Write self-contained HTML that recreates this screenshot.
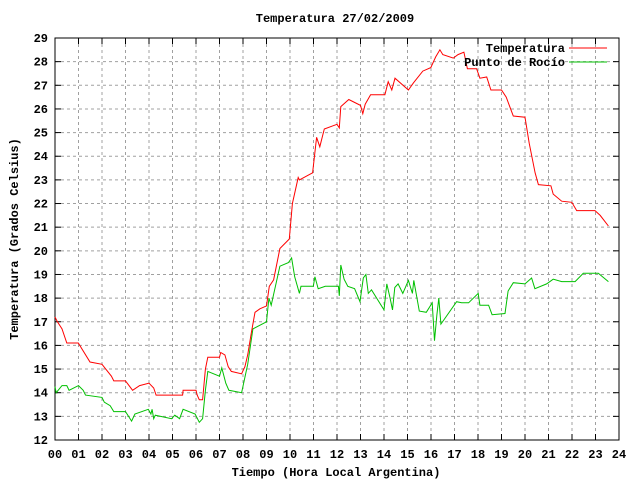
<!DOCTYPE html>
<html><head><meta charset="utf-8"><style>
body{margin:0;background:#fff;}
svg text{font-family:"Liberation Mono",monospace;font-weight:bold;font-size:12px;fill:#000;}
</style></head><body>
<svg id="chart" width="640" height="480" xmlns="http://www.w3.org/2000/svg">
<rect width="640" height="480" fill="#fff"/>
<g id="grid"></g>
<g id="axes"></g>
<g id="series"></g>
<text x="335" y="22" text-anchor="middle">Temperatura 27/02/2009</text>
<text x="336" y="476" text-anchor="middle">Tiempo (Hora Local Argentina)</text>
<text x="0" y="0" text-anchor="middle" transform="translate(18,239) rotate(-90)">Temperatura (Grados Celsius)</text>
<g>
<text x="565" y="52" text-anchor="end">Temperatura</text>
<line x1="569" y1="48" x2="607" y2="48" stroke="#ff0000" stroke-width="1"/>
<text x="565" y="66" text-anchor="end">Punto de Rocío</text>
<line x1="569" y1="62" x2="607" y2="62" stroke="#00c000" stroke-width="1"/>
</g>
</svg>
<script>
const xTicks=["00","01","02","03","04","05","06","07","08","09","10","11","12","13","14","15","16","17","18","19","20","21","22","23","24"];
const yTicks=[12,13,14,15,16,17,18,19,20,21,22,23,24,25,26,27,28,29];
const tempHours=[0,0.1,0.3,0.5,0.99,1.49,2.0,2.4,2.5,3.0,3.3,3.6,4.0,4.2,4.3,5.43,5.45,6.0,6.05,6.14,6.28,6.4,6.5,7.0,7.05,7.23,7.37,7.5,7.94,8.08,8.2,8.35,8.51,8.72,9.0,9.12,9.3,9.57,9.97,10.1,10.35,10.4,10.96,11.13,11.27,11.46,12.0,12.1,12.16,12.5,13.0,13.1,13.2,13.43,14.04,14.18,14.33,14.47,15.04,15.25,15.65,15.99,16.2,16.38,16.5,16.95,17.15,17.4,17.55,17.94,18.08,18.37,18.55,19.0,19.2,19.5,20.0,20.18,20.43,20.57,21.1,21.2,21.56,21.99,22.2,22.55,22.98,23.2,23.55];
const tempValues=[17.2,17.0,16.7,16.1,16.1,15.3,15.2,14.7,14.5,14.5,14.1,14.3,14.4,14.2,13.9,13.9,14.1,14.1,13.9,13.7,13.7,15.0,15.5,15.5,15.7,15.6,15.1,14.9,14.8,15.1,15.6,16.5,17.4,17.55,17.67,18.5,18.77,20.1,20.5,22.0,23.1,23.0,23.3,24.8,24.4,25.15,25.35,25.2,26.1,26.4,26.15,25.8,26.2,26.6,26.6,27.15,26.8,27.3,26.8,27.1,27.6,27.75,28.2,28.5,28.3,28.15,28.3,28.4,27.7,27.7,27.3,27.35,26.8,26.8,26.5,25.7,25.65,24.55,23.3,22.8,22.75,22.4,22.1,22.05,21.7,21.7,21.7,21.5,21.05];
const dewHours=[0,0.05,0.3,0.5,0.6,1.0,1.2,1.3,2.0,2.1,2.35,2.5,3.0,3.26,3.4,3.97,4.08,4.13,4.2,4.27,4.96,5.1,5.3,5.45,5.96,6.14,6.28,6.4,6.5,7.0,7.1,7.27,7.4,7.94,8.2,8.42,9.0,9.1,9.2,9.57,9.93,10.07,10.2,10.4,10.47,10.99,11.06,11.2,11.5,12.06,12.1,12.16,12.3,12.46,12.75,12.98,13.12,13.23,13.33,13.47,14.0,14.12,14.26,14.36,14.46,14.6,14.8,15.04,15.21,15.27,15.5,15.8,16.05,16.15,16.25,16.33,16.42,17.09,17.3,17.6,18.01,18.08,18.45,18.6,19.15,19.28,19.5,20.0,20.28,20.42,20.92,21.2,21.56,22.13,22.48,23.12,23.55];
const dewValues=[14.26,14.0,14.3,14.3,14.1,14.3,14.1,13.9,13.8,13.6,13.45,13.2,13.2,12.8,13.1,13.3,13.1,13.3,12.9,13.05,12.9,13.05,12.9,13.3,13.1,12.75,12.9,14.1,14.9,14.7,15.05,14.4,14.1,14.0,15.2,16.7,17.0,18.0,17.7,19.35,19.5,19.7,18.9,18.2,18.5,18.5,18.9,18.4,18.5,18.5,18.1,19.4,18.8,18.5,18.4,17.85,18.85,19.0,18.2,18.35,17.5,18.6,18.0,17.5,18.45,18.6,18.2,18.75,18.2,18.75,17.45,17.4,17.8,16.2,17.3,18.0,16.9,17.85,17.8,17.8,18.2,17.7,17.7,17.3,17.35,18.3,18.65,18.6,18.85,18.4,18.6,18.8,18.7,18.7,19.05,19.05,18.7];
const L=55,R=619,T=38,B=440;
const xS=h=>L+(h/24)*(R-L);
const yS=v=>B-(v-12)/(29-12)*(B-T);
const NS="http://www.w3.org/2000/svg";
function mk(tag,attrs,parent){const e=document.createElementNS(NS,tag);for(const k in attrs)e.setAttribute(k,attrs[k]);parent.appendChild(e);return e;}
const grid=document.getElementById('grid'),axes=document.getElementById('axes'),series=document.getElementById('series');
xTicks.forEach((t,i)=>{const x=xS(i);
 if(i>0&&i<24){const g=mk('line',{x1:x,y1:T,x2:x,y2:B,stroke:'#a0a0a0','stroke-dasharray':'3,3'},grid);
 }
 const a=mk('line',{x1:x,y1:B,x2:x,y2:B-6,stroke:'#000'},axes);
 const b=mk('line',{x1:x,y1:T,x2:x,y2:T+6,stroke:'#000'},axes);
 const tx=mk('text',{x:x,y:458,'text-anchor':'middle'},axes);tx.textContent=t;
 });
yTicks.forEach(v=>{const y=yS(v);
 if(v>12&&v<29){const g=mk('line',{x1:L,y1:y,x2:R,y2:y,stroke:'#a0a0a0','stroke-dasharray':'3,3'},grid);
 }
 const a=mk('line',{x1:L,y1:y,x2:L+6,y2:y,stroke:'#000'},axes);
 const b=mk('line',{x1:R,y1:y,x2:R-6,y2:y,stroke:'#000'},axes);
 const tx=mk('text',{x:48,y:y+4,'text-anchor':'end'},axes);tx.textContent=v;
 });
const fr=mk('rect',{x:L,y:T,width:R-L,height:B-T,fill:'none',stroke:'#000'},axes);

function line(hs,vs,color,name){const d=hs.map((h,i)=>(i?'L':'M')+xS(h).toFixed(1)+','+yS(vs[i]).toFixed(1)).join('');
 const p=mk('path',{d:d,fill:'none',stroke:color,'stroke-width':1},series);
 }
line(dewHours,dewValues,'#00c000','dew-point-line');
line(tempHours,tempValues,'#ff0000','temperature-line');
</script>
</body></html>
